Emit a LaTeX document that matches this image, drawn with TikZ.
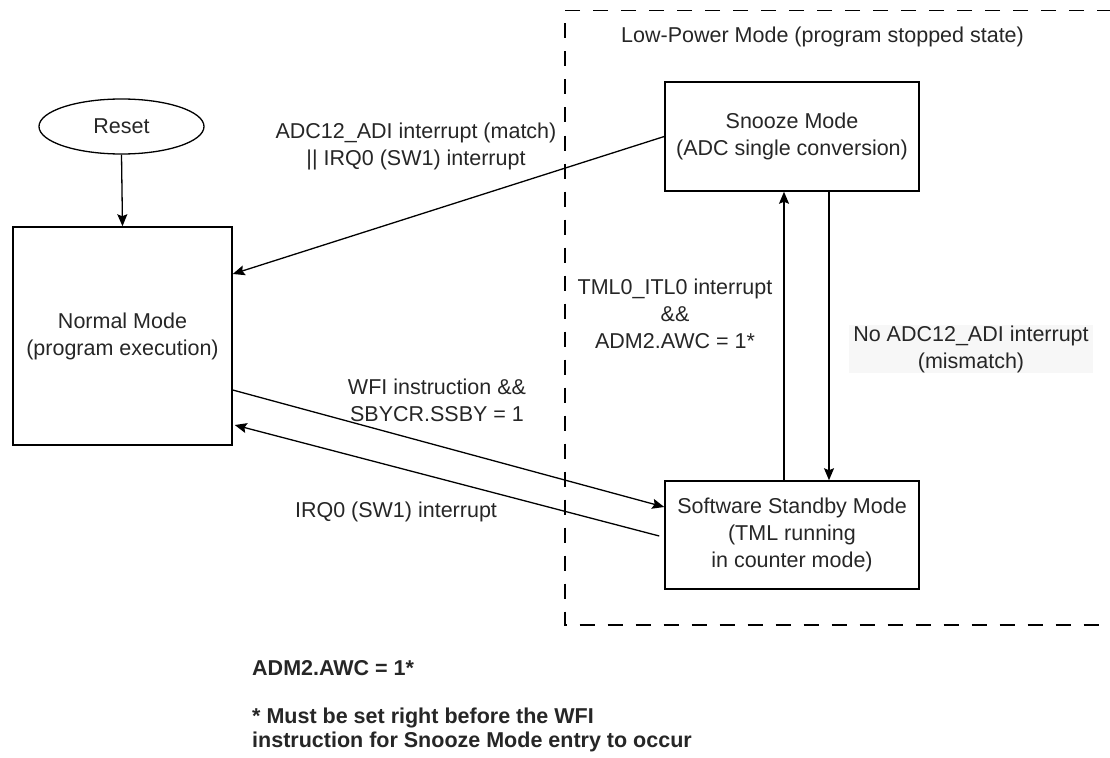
\documentclass[tikz,border=0pt]{standalone}
\usepackage{fontspec}
\setmainfont{Liberation Sans}
\usetikzlibrary{arrows.meta,shapes.geometric,calc}

\tikzset{
  every node/.style={font=\fontsize{21.5}{27}\selectfont, text=black!85},
  modebox/.style={draw=black, line width=1.5pt, rectangle, inner sep=0pt, align=center},
  startnode/.style={draw=black, line width=1.3pt, ellipse, inner sep=0pt},
  flow/.style={draw=black, line width=1.3pt, -{Stealth[length=12pt,width=10pt,inset=2pt]}},
  lbl/.style={align=center, inner sep=0pt},
  region/.style={draw=black, line width=1.3pt, dash pattern=on 15pt off 13pt},
  note/.style={align=left, anchor=west, inner sep=0pt, font=\fontsize{21.5}{24}\selectfont\bfseries}
}

\begin{document}
\begin{tikzpicture}[x=1pt, y=-1pt]
  \useasboundingbox (0,0) rectangle (1110,757);

  % low-power region (open on the right side)
  \draw[region] (1112,10.5) -- (565,10.5) -- (565,625) -- (1112,625);
  \node[lbl, anchor=west] (lpm) at (621,37) {Low-Power Mode (program stopped state)};

  % states
  \node[startnode, minimum width=165pt, minimum height=55pt] (reset) at (121.5,126.5) {Reset};
  \node[modebox, minimum width=219pt, minimum height=218pt] (normal) at (122.5,336)
    {Normal Mode\\(program execution)};
  \node[modebox, minimum width=254pt, minimum height=109pt] (snooze) at (792,136.5)
    {Snooze Mode\\(ADC single conversion)};
  \node[modebox, minimum width=254pt, minimum height=108pt] (standby) at (792,535)
    {Software Standby Mode\\(TML running\\in counter mode)};

  % transitions
  \draw[flow] (reset.south) -- (normal.north);
  \draw[flow] (snooze.west) -- ([yshift=62pt]normal.east);
  \draw[flow] ([yshift=-54pt]normal.east) -- ([yshift=28pt]standby.west);
  \draw[flow] ([xshift=-5pt,yshift=-1pt]standby.west) -- ([xshift=2pt,yshift=-89pt]normal.east);
  \draw[flow] ([xshift=-8pt]standby.north) -- ([xshift=-8pt]snooze.south);
  \draw[flow] ([xshift=37pt]snooze.south) -- ([xshift=37pt]standby.north);

  % transition labels
  \node[lbl] (l1) at (416,146) {ADC12\_ADI interrupt (match)\\|| IRQ0 (SW1) interrupt};
  \node[lbl] (l2) at (437,400) {WFI instruction \&\&\\SBYCR.SSBY = 1};
  \node[lbl] (l3) at (396,512) {IRQ0 (SW1) interrupt};
  \node[lbl] (l4) at (675,314) {TML0\_ITL0 interrupt\\\&\&\\ADM2.AWC = 1*};
  \node[lbl, fill=black!3, minimum width=244pt, minimum height=48pt] (l5) at (971,349)
    {No ADC12\_ADI interrupt\\(mismatch)};

  % footnote
  \node[note] (n1) at (252,668) {ADM2.AWC = 1*};
  \node[note] (n2) at (252,730) {* Must be set right before the WFI\\instruction for Snooze Mode entry to occur};
\end{tikzpicture}
\end{document}
